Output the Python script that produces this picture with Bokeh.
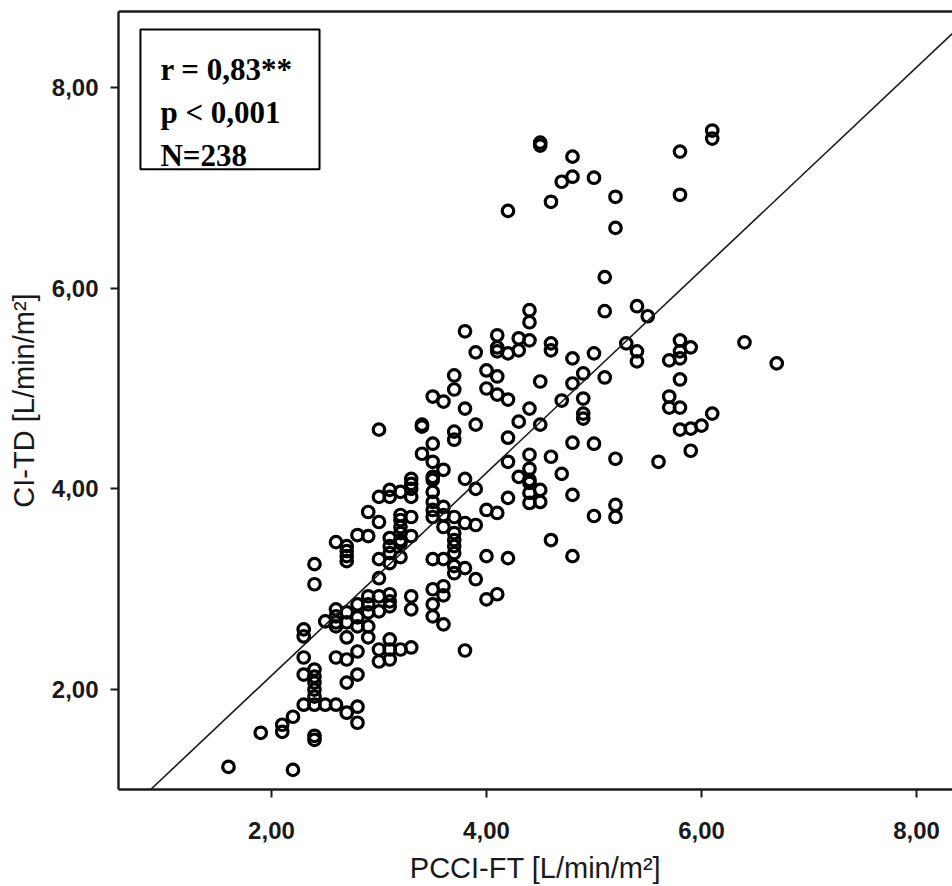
from bokeh.plotting import figure
from bokeh.models import Range1d, FixedTicker, LinearAxis, Slope, BoxAnnotation, Label, ColumnDataSource
from bokeh.embed import file_html
from bokeh.resources import INLINE

# PCCI-FT [L/min/m²] (x) and CI-TD [L/min/m²] (y)
pcci_ft = [
    1.6,
    1.9,
    2.1, 2.1,
    2.2, 2.2,
    2.3, 2.3, 2.3, 2.3, 2.3,
    2.4, 2.4, 2.4, 2.4, 2.4, 2.4, 2.4, 2.4, 2.4, 2.4,
    2.5, 2.5,
    2.6, 2.6, 2.6, 2.6, 2.6, 2.6, 2.6,
    2.7, 2.7, 2.7, 2.7, 2.7, 2.7, 2.7, 2.7, 2.7, 2.7,
    2.8, 2.8, 2.8, 2.8, 2.8, 2.8, 2.8, 2.8,
    2.9, 2.9, 2.9, 2.9, 2.9, 2.9, 2.9,
    3.0, 3.0, 3.0, 3.0, 3.0, 3.0, 3.0, 3.0, 3.0,
    3.1, 3.1, 3.1, 3.1, 3.1, 3.1, 3.1, 3.1, 3.1, 3.1, 3.1, 3.1,
    3.2, 3.2, 3.2, 3.2, 3.2, 3.2, 3.2, 3.2, 3.2,
    3.3, 3.3, 3.3, 3.3, 3.3, 3.3, 3.3, 3.3, 3.3,
    3.4, 3.4, 3.4,
    3.5, 3.5, 3.5, 3.5, 3.5, 3.5, 3.5, 3.5, 3.5, 3.5, 3.5, 3.5, 3.5,
    3.6, 3.6, 3.6, 3.6, 3.6, 3.6, 3.6, 3.6, 3.6,
    3.7, 3.7, 3.7, 3.7, 3.7, 3.7, 3.7, 3.7, 3.7, 3.7, 3.7,
    3.8, 3.8, 3.8, 3.8, 3.8, 3.8,
    3.9, 3.9, 3.9, 3.9, 3.9,
    4.0, 4.0, 4.0, 4.0, 4.0,
    4.1, 4.1, 4.1, 4.1, 4.1, 4.1, 4.1,
    4.2, 4.2, 4.2, 4.2, 4.2, 4.2, 4.2,
    4.3, 4.3, 4.3, 4.3,
    4.4, 4.4, 4.4, 4.4, 4.4, 4.4, 4.4, 4.4, 4.4, 4.4,
    4.5, 4.5, 4.5, 4.5, 4.5, 4.5,
    4.6, 4.6, 4.6, 4.6, 4.6,
    4.7, 4.7, 4.7,
    4.8, 4.8, 4.8, 4.8, 4.8, 4.8, 4.8,
    4.9, 4.9, 4.9, 4.9,
    5.0, 5.0, 5.0, 5.0,
    5.1, 5.1, 5.1,
    5.2, 5.2, 5.2, 5.2, 5.2,
    5.3,
    5.4, 5.4, 5.4,
    5.5,
    5.6,
    5.7, 5.7, 5.7,
    5.8, 5.8, 5.8, 5.8, 5.8, 5.8, 5.8, 5.8,
    5.9, 5.9, 5.9,
    6.0,
    6.1, 6.1, 6.1,
    6.4,
    6.7,
]

ci_td = [
    1.23,
    1.57,
    1.58, 1.65,
    1.20, 1.73,
    1.85, 2.15, 2.32, 2.53, 2.60,
    1.50, 1.54, 1.85, 1.93, 2.00, 2.07, 2.13, 2.20, 3.05, 3.25,
    1.85, 2.68,
    1.85, 2.32, 2.63, 2.67, 2.73, 2.80, 3.47,
    1.77, 2.07, 2.30, 2.52, 2.67, 2.77, 3.28, 3.33, 3.38, 3.43,
    1.67, 1.83, 2.15, 2.38, 2.63, 2.72, 2.85, 3.54,
    2.52, 2.63, 2.77, 2.85, 2.93, 3.53, 3.77,
    2.28, 2.40, 2.78, 2.93, 3.11, 3.30, 3.67, 3.92, 4.59,
    2.30, 2.40, 2.50, 2.83, 2.88, 2.95, 3.26, 3.36, 3.43, 3.51, 3.92, 3.99,
    2.40, 3.32, 3.46, 3.49, 3.56, 3.62, 3.69, 3.74, 3.97,
    2.42, 2.80, 2.93, 3.53, 3.72, 3.92, 4.00, 4.05, 4.10,
    4.35, 4.62, 4.64,
    2.73, 2.85, 3.00, 3.30, 3.72, 3.79, 3.87, 3.97, 4.09, 4.12, 4.27, 4.45, 4.92,
    2.65, 2.94, 3.03, 3.30, 3.62, 3.74, 3.82, 4.19, 4.87,
    3.16, 3.23, 3.36, 3.43, 3.49, 3.56, 3.72, 4.49, 4.57, 4.99, 5.13,
    2.39, 3.21, 3.66, 4.10, 4.80, 5.57,
    3.10, 3.64, 4.00, 4.64, 5.36,
    2.90, 3.33, 3.79, 5.00, 5.18,
    2.95, 3.76, 4.94, 5.12, 5.37, 5.41, 5.53,
    3.31, 3.91, 4.27, 4.51, 4.89, 5.35, 6.77,
    4.12, 4.67, 5.38, 5.50,
    3.86, 3.96, 4.06, 4.09, 4.20, 4.34, 4.80, 5.48, 5.66, 5.78,
    3.87, 3.99, 4.64, 5.07, 7.42, 7.45,
    3.49, 4.32, 5.38, 5.45, 6.86,
    4.15, 4.88, 7.06,
    3.33, 3.94, 4.46, 5.05, 5.30, 7.11, 7.31,
    4.70, 4.75, 4.90, 5.15,
    3.73, 4.45, 5.35, 7.10,
    5.11, 5.77, 6.11,
    3.72, 3.84, 4.30, 6.60, 6.91,
    5.45,
    5.27, 5.37, 5.82,
    5.72,
    4.27,
    4.81, 4.92, 5.28,
    4.59, 4.81, 5.09, 5.30, 5.37, 5.48, 6.93, 7.36,
    4.38, 4.60, 5.41,
    4.63,
    4.75, 7.49, 7.57,
    5.46,
    5.25,
]

# fit line
fit_slope = 1.01
fit_intercept = 0.12

tick_values = [2, 4, 6, 8]
tick_labels = ["2,00", "4,00", "6,00", "8,00"]

stats_lines = ["r = 0,83**", "p < 0,001", "N=238"]

x_title = "PCCI-FT [L/min/m²]"
y_title = "CI-TD [L/min/m²]"

src = ColumnDataSource(data=dict(x=pcci_ft, y=ci_td))

p = figure(width=952, height=886, output_backend="svg", toolbar_location=None,
           x_range=Range1d(0.577, 8.335), y_range=Range1d(1.005, 8.756))
p.min_border_left = 118
p.min_border_right = 0
p.min_border_top = 11
p.min_border_bottom = 96
p.outline_line_color = None
p.grid.visible = False
p.background_fill_color = "white"
p.border_fill_color = "white"

for ax in (p.xaxis[0], p.yaxis[0]):
    ax.ticker = FixedTicker(ticks=tick_values)
    ax.major_label_overrides = {v: l for v, l in zip(tick_values, tick_labels)}
    ax.axis_line_width = 2.4
    ax.axis_line_color = "#1a1a1a"
    ax.major_tick_line_width = 2
    ax.major_tick_line_color = "#1a1a1a"
    ax.major_tick_in = 0
    ax.major_tick_out = 8
    ax.minor_tick_line_color = None
    ax.major_label_text_font = "Liberation Sans"
    ax.major_label_text_font_style = "bold"
    ax.major_label_text_font_size = "24px"
    ax.major_label_text_color = "#1a1a1a"
    ax.axis_label_text_font = "Liberation Sans"
    ax.axis_label_text_font_style = "normal"
    ax.axis_label_text_font_size = "29px"
    ax.axis_label_text_color = "#1a1a1a"

p.xaxis.axis_label = x_title
p.yaxis.axis_label = y_title
p.xaxis.major_label_standoff = 24
p.xaxis.axis_label_standoff = 10
p.yaxis.major_label_standoff = 12
p.yaxis.axis_label_standoff = 9

top = LinearAxis(ticker=FixedTicker(ticks=[]), axis_line_width=2.4, axis_line_color="#1a1a1a",
                 major_tick_line_color=None, minor_tick_line_color=None,
                 major_label_text_font_size="0px")
p.add_layout(top, "above")

p.add_layout(Slope(gradient=fit_slope, y_intercept=fit_intercept,
                   line_color="#1a1a1a", line_width=1.6))

p.scatter("x", "y", source=src, marker="circle", size=11.5,
          fill_color=None, line_color="black", line_width=3.2)

# statistics box (placed in data units matching the reference layout)
p.add_layout(BoxAnnotation(left=0.781, right=2.447, bottom=7.184, top=8.577,
                           fill_color="white", fill_alpha=1.0,
                           line_color="black", line_alpha=1.0, line_width=2,
                           level="annotation"))
for i, t in enumerate(stats_lines):
    p.add_layout(Label(x=0.967, y=8.180 - i * 0.428, text=t,
                       text_font="Liberation Serif", text_font_style="bold",
                       text_font_size="31px", text_color="black",
                       text_baseline="alphabetic"))

open("out.html", "w").write(file_html(p, INLINE))
